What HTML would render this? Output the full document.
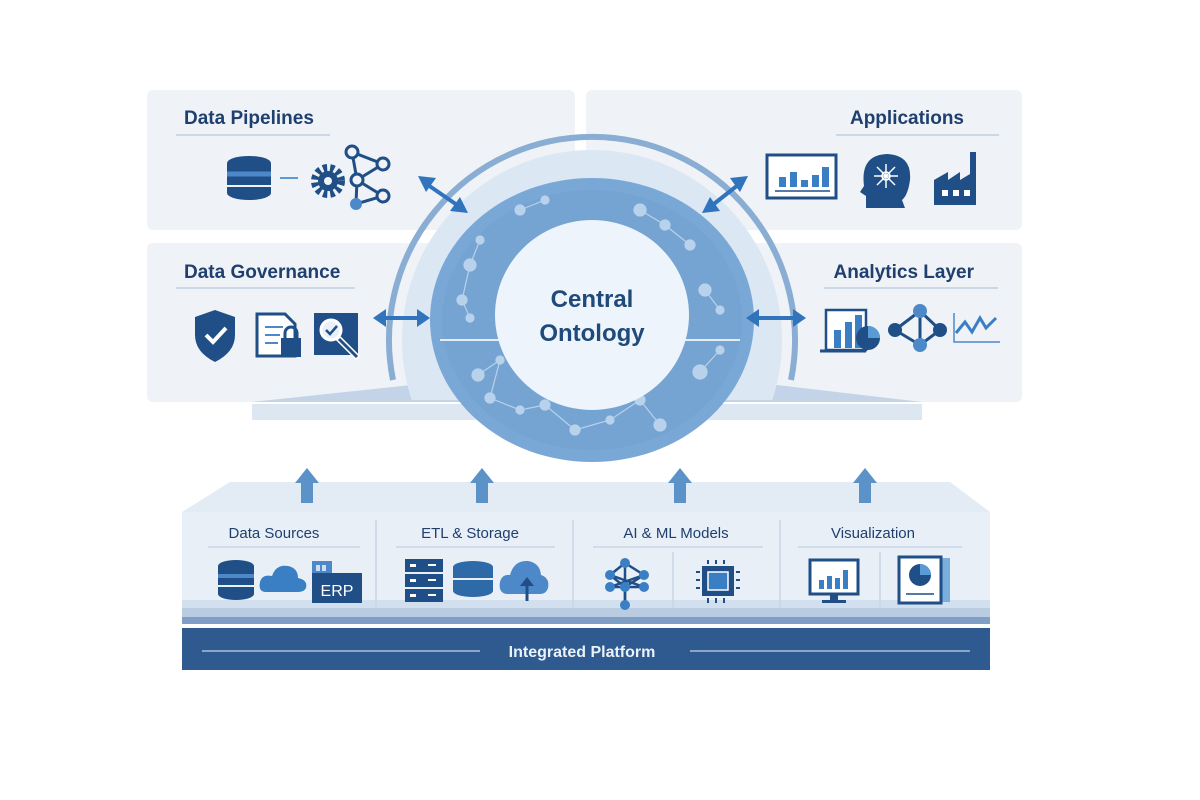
<!DOCTYPE html>
<html><head><style>
body{margin:0;background:#fff;}
svg{display:block;font-family:"Liberation Sans",sans-serif;}
</style></head><body>
<svg width="1200" height="800" viewBox="0 0 1200 800">
<defs><clipPath id="c"><rect x="0" y="0" width="1200" height="400"/></clipPath></defs>
<rect width="1200" height="800" fill="#fff"/>
<rect x="147" y="90" width="428" height="140" rx="6" fill="#eff2f7"/>
<rect x="147" y="243" width="428" height="159" rx="6" fill="#eff2f7"/>
<rect x="586" y="90" width="436" height="140" rx="6" fill="#eff2f7"/>
<rect x="586" y="243" width="436" height="159" rx="6" fill="#eff2f7"/>
<path d="M252 402 L430 383 L760 383 L922 402 Z" fill="#c3d4e8"/>
<rect x="252" y="404" width="670" height="16" fill="#dde7f2"/>
<g clip-path="url(#c)">
<circle cx="592" cy="340" r="190" fill="#dbe7f3"/>
<path d="M393 380 A203 203 0 1 1 791 380" fill="none" stroke="#8aaed3" stroke-width="6"/>
</g>
<ellipse cx="592" cy="320" rx="162" ry="142" fill="#7aa8d6"/>
<ellipse cx="592" cy="320" rx="150" ry="130" fill="#6f9fd0" opacity=".5"/>
<line x1="440" y1="340" x2="510" y2="340" stroke="#e3edf7" stroke-width="2"/>
<line x1="680" y1="340" x2="740" y2="340" stroke="#e3edf7" stroke-width="2"/>
<g fill="#b9d2ec" stroke="#b9d2ec" stroke-width="1.2">
<circle cx="478" cy="375" r="6"/><circle cx="500" cy="360" r="4"/><circle cx="490" cy="398" r="5"/>
<circle cx="520" cy="410" r="4"/><circle cx="545" cy="405" r="5"/><circle cx="575" cy="430" r="5"/>
<circle cx="610" cy="420" r="4"/><circle cx="640" cy="400" r="5"/><circle cx="660" cy="425" r="6"/>
<circle cx="700" cy="372" r="7"/><circle cx="720" cy="350" r="4"/>
<circle cx="470" cy="265" r="6"/><circle cx="462" cy="300" r="5"/><circle cx="470" cy="318" r="4"/>
<circle cx="480" cy="240" r="4"/><circle cx="520" cy="210" r="5"/><circle cx="545" cy="200" r="4"/>
<circle cx="640" cy="210" r="6"/><circle cx="665" cy="225" r="5"/><circle cx="690" cy="245" r="5"/>
<circle cx="705" cy="290" r="6"/><circle cx="720" cy="310" r="4"/>
<polyline points="478,375 500,360 490,398 520,410 545,405 575,430 610,420 640,400 660,425" fill="none"/>
<polyline points="700,372 720,350" fill="none"/>
<polyline points="480,240 470,265 462,300 470,318" fill="none"/>
<polyline points="520,210 545,200" fill="none"/><polyline points="640,210 665,225 690,245" fill="none"/>
<polyline points="705,290 720,310" fill="none"/>
</g>
<ellipse cx="592" cy="315" rx="97" ry="95" fill="#edf4fb"/>
<text x="592" y="307" text-anchor="middle" font-size="24" font-weight="bold" fill="#1f4a7a">Central</text>
<text x="592" y="341" text-anchor="middle" font-size="24" font-weight="bold" fill="#1f4a7a">Ontology</text>
<g fill="#2f74bd" stroke="#2f74bd" stroke-width="4">
<line x1="428" y1="185" x2="460" y2="207"/><line x1="738" y1="185" x2="710" y2="207"/>
<line x1="382" y1="318" x2="422" y2="318"/><line x1="755" y1="318" x2="800" y2="318"/>
</g>
<g fill="#2f74bd">
<polygon points="418,176 436,178 426,192"/><polygon points="468,213 450,211 460,197"/>
<polygon points="748,176 730,178 740,192"/><polygon points="702,213 720,211 710,197"/>
<polygon points="373,318 386,309 386,327"/><polygon points="430,318 417,309 417,327"/>
<polygon points="746,318 759,309 759,327"/><polygon points="806,318 793,309 793,327"/>
</g>
<g font-size="19" font-weight="bold" fill="#1f3f6e">
<text x="184" y="124">Data Pipelines</text>
<text x="184" y="278">Data Governance</text>
<text x="964" y="124" text-anchor="end">Applications</text>
<text x="974" y="278" text-anchor="end">Analytics Layer</text>
</g>
<g stroke="#bfd0e3" stroke-width="1.5">
<line x1="176" y1="135" x2="330" y2="135"/><line x1="176" y1="288" x2="355" y2="288"/>
<line x1="836" y1="135" x2="999" y2="135"/><line x1="824" y1="288" x2="998" y2="288"/>
</g>
<g fill="#1f4f86"><ellipse cx="249" cy="163" rx="22" ry="7"/><rect x="227" y="163" width="44" height="30"/><ellipse cx="249" cy="193" rx="22" ry="7"/></g>
<line x1="227" y1="174" x2="271" y2="174" stroke="#4d89c8" stroke-width="5"/>
<line x1="227" y1="186" x2="271" y2="186" stroke="#eff2f7" stroke-width="2"/>
<line x1="280" y1="178" x2="298" y2="178" stroke="#5b9bd5" stroke-width="2"/>
<circle cx="328" cy="181" r="13" fill="none" stroke="#1f4f86" stroke-width="8" stroke-dasharray="4 3"/>
<circle cx="328" cy="181" r="10" fill="#1f4f86"/><circle cx="328" cy="181" r="4" fill="#eff2f7"/>
<g stroke="#1f4f86" stroke-width="3" fill="#eff2f7">
<polyline points="352,152 383,164 357,180 383,196 356,204 357,180 352,152" fill="none"/>
<circle cx="352" cy="152" r="6"/><circle cx="383" cy="164" r="6"/><circle cx="357" cy="180" r="6"/><circle cx="383" cy="196" r="6"/>
</g>
<circle cx="356" cy="204" r="6" fill="#4d89c8"/>
<path d="M215 310 L235 317 L235 335 Q235 352 215 362 Q195 352 195 335 L195 317 Z" fill="#1f4f86"/>
<polyline points="206,335 213,342 226,328" fill="none" stroke="#fff" stroke-width="4"/>
<path d="M257 314 L285 314 L295 324 L295 356 L257 356 Z" fill="#fff" stroke="#1f4f86" stroke-width="3"/>
<g stroke="#4d89c8" stroke-width="2"><line x1="265" y1="327" x2="283" y2="327"/><line x1="265" y1="335" x2="280" y2="335"/><line x1="265" y1="343" x2="278" y2="343"/></g>
<rect x="281" y="338" width="20" height="19" fill="#1f4f86"/><path d="M285 338 v-5 a6 6 0 0 1 12 0 v5" fill="none" stroke="#1f4f86" stroke-width="3"/>
<rect x="314" y="313" width="44" height="42" fill="#1f4f86"/>
<circle cx="331" cy="330" r="10" fill="#e9f0f8" stroke="#fff" stroke-width="3"/>
<polyline points="326,330 330,334 337,326" fill="none" stroke="#1f4f86" stroke-width="2.5"/>
<line x1="338" y1="338" x2="358" y2="358" stroke="#fff" stroke-width="6"/><line x1="339" y1="339" x2="357" y2="357" stroke="#1f4f86" stroke-width="3"/>
<rect x="767" y="155" width="69" height="43" fill="#fff" stroke="#1f4f86" stroke-width="3"/>
<g fill="#3a7fc4"><rect x="779" y="177" width="7" height="10"/><rect x="790" y="172" width="7" height="15"/><rect x="801" y="180" width="7" height="7"/><rect x="812" y="175" width="7" height="12"/><rect x="822" y="167" width="7" height="20"/></g>
<line x1="775" y1="191" x2="830" y2="191" stroke="#1f4f86" stroke-width="1.5"/>
<path d="M866 208 L866 196 L860 192 L864 186 Q860 155 887 154 Q912 155 910 180 Q908 195 902 200 L905 208 Z" fill="#1f4f86"/>
<g stroke="#fff" stroke-width="1.5" fill="#fff"><circle cx="886" cy="176" r="4" fill="none"/><line x1="886" y1="164" x2="886" y2="188"/><line x1="874" y1="176" x2="898" y2="176"/><line x1="877" y1="167" x2="895" y2="185"/><line x1="895" y1="167" x2="877" y2="185"/></g>
<path d="M934 205 L934 180 L948 172 L948 180 L960 172 L960 180 L970 174 L970 152 L976 152 L976 205 Z" fill="#1f4f86"/>
<g fill="#fff"><rect x="942" y="190" width="6" height="6"/><rect x="953" y="190" width="6" height="6"/><rect x="964" y="190" width="6" height="6"/></g>
<rect x="826" y="310" width="40" height="40" fill="#fff" stroke="#1f4f86" stroke-width="2.5"/>
<line x1="820" y1="351" x2="866" y2="351" stroke="#1f4f86" stroke-width="3"/>
<g fill="#3a7fc4"><rect x="834" y="330" width="7" height="18"/><rect x="845" y="322" width="7" height="26"/><rect x="855" y="315" width="7" height="33"/></g>
<circle cx="868" cy="338" r="12" fill="#1f4f86"/><path d="M868 338 L868 326 A12 12 0 0 1 880 338 Z" fill="#5b9bd5"/>
<g stroke="#1f4f86" stroke-width="3"><line x1="895" y1="330" x2="920" y2="311"/><line x1="895" y1="330" x2="920" y2="345"/><line x1="920" y1="311" x2="920" y2="345"/><line x1="920" y1="311" x2="940" y2="330"/><line x1="920" y1="345" x2="940" y2="330"/></g>
<circle cx="895" cy="330" r="7" fill="#1f4f86"/><circle cx="920" cy="311" r="7" fill="#4d89c8"/><circle cx="920" cy="345" r="7" fill="#4d89c8"/><circle cx="940" cy="330" r="7" fill="#1f4f86"/>
<polyline points="954,313 954,342 1000,342" fill="none" stroke="#4d89c8" stroke-width="1.5"/>
<polyline points="956,333 965,322 972,332 980,318 986,328 996,318" fill="none" stroke="#3a7fc4" stroke-width="3"/>
<path d="M230 482 L950 482 L990 512 L182 512 Z" fill="#e3ebf5"/>
<rect x="182" y="512" width="808" height="96" fill="#e8eff7"/>
<rect x="182" y="600" width="808" height="10" fill="#d2dfee"/>
<rect x="182" y="608" width="808" height="12" fill="#b9cce2"/>
<rect x="182" y="617" width="808" height="7" fill="#7f9fc6"/>
<rect x="182" y="628" width="808" height="42" fill="#2e5a8f"/>
<line x1="202" y1="651" x2="480" y2="651" stroke="#a9c0dc" stroke-width="1.5"/>
<line x1="690" y1="651" x2="970" y2="651" stroke="#a9c0dc" stroke-width="1.5"/>
<text x="582" y="657" text-anchor="middle" font-size="16" font-weight="bold" fill="#eaf1f9">Integrated Platform</text>
<g fill="#5b93c9">
<rect x="301" y="481" width="12" height="22"/><polygon points="295,483 307,468 319,483"/>
<rect x="476" y="481" width="12" height="22"/><polygon points="470,483 482,468 494,483"/>
<rect x="674" y="481" width="12" height="22"/><polygon points="668,483 680,468 692,483"/>
<rect x="859" y="481" width="12" height="22"/><polygon points="853,483 865,468 877,483"/>
</g>
<g stroke="#c8d6e6" stroke-width="1.5">
<line x1="376" y1="520" x2="376" y2="608"/><line x1="573" y1="520" x2="573" y2="608"/><line x1="780" y1="520" x2="780" y2="608"/>
<line x1="673" y1="552" x2="673" y2="608"/><line x1="880" y1="552" x2="880" y2="608"/>
<line x1="208" y1="547" x2="360" y2="547"/><line x1="396" y1="547" x2="555" y2="547"/><line x1="593" y1="547" x2="763" y2="547"/><line x1="798" y1="547" x2="962" y2="547"/>
</g>
<g font-size="15" fill="#1f3f6e" text-anchor="middle">
<text x="274" y="538">Data Sources</text><text x="470" y="538">ETL &amp; Storage</text>
<text x="676" y="538">AI &amp; ML Models</text><text x="873" y="538">Visualization</text>
</g>
<g fill="#1f4f86"><ellipse cx="236" cy="566" rx="18" ry="6"/><rect x="218" y="566" width="36" height="28"/><ellipse cx="236" cy="594" rx="18" ry="6"/></g>
<line x1="218" y1="576" x2="254" y2="576" stroke="#4d89c8" stroke-width="4"/><line x1="218" y1="586" x2="254" y2="586" stroke="#e8eff7" stroke-width="2"/>
<path d="M266 592 Q258 592 260 582 Q262 574 272 576 Q276 564 288 566 Q298 568 298 578 Q308 580 306 588 Q304 592 298 592 Z" fill="#3a7fc4"/>
<rect x="312" y="561" width="20" height="16" fill="#4d89c8"/><rect x="316" y="565" width="4" height="6" fill="#cde0f2"/><rect x="322" y="565" width="4" height="6" fill="#cde0f2"/>
<rect x="312" y="573" width="50" height="30" fill="#1f4f86"/>
<text x="337" y="596" font-size="16" fill="#fff" text-anchor="middle">ERP</text>
<g fill="#1f4f86"><rect x="405" y="559" width="38" height="13"/><rect x="405" y="574" width="38" height="13"/><rect x="405" y="589" width="38" height="13"/></g>
<g fill="#fff"><rect x="410" y="564" width="6" height="3"/><rect x="428" y="564" width="8" height="2"/><rect x="410" y="579" width="6" height="3"/><rect x="428" y="579" width="8" height="2"/><rect x="410" y="594" width="6" height="3"/><rect x="428" y="594" width="8" height="2"/></g>
<g fill="#2f6aa8"><ellipse cx="473" cy="567" rx="20" ry="6"/><rect x="453" y="567" width="40" height="24"/><ellipse cx="473" cy="591" rx="20" ry="6"/></g>
<line x1="453" y1="579" x2="493" y2="579" stroke="#e8eff7" stroke-width="2"/>
<path d="M508 594 Q498 594 500 582 Q502 574 510 575 Q514 560 528 561 Q540 563 541 575 Q550 578 548 588 Q546 594 540 594 Z" fill="#4d89c8"/>
<line x1="527" y1="601" x2="527" y2="582" stroke="#1f4f86" stroke-width="3"/><polygon points="520,586 527,577 534,586" fill="#1f4f86"/>
<g stroke="#1f4f86" stroke-width="2.5"><line x1="625" y1="563" x2="644" y2="575"/><line x1="625" y1="563" x2="610" y2="575"/><line x1="610" y1="575" x2="625" y2="587"/><line x1="644" y1="575" x2="625" y2="587"/><line x1="625" y1="563" x2="625" y2="605"/><line x1="610" y1="587" x2="644" y2="587"/><line x1="610" y1="575" x2="644" y2="587"/><line x1="644" y1="575" x2="610" y2="587"/><line x1="625" y1="587" x2="625" y2="605"/></g>
<g fill="#3a7fc4"><circle cx="625" cy="563" r="5"/><circle cx="610" cy="575" r="5"/><circle cx="644" cy="575" r="5"/><circle cx="610" cy="587" r="5"/><circle cx="644" cy="587" r="5"/><circle cx="625" cy="587" r="5"/><circle cx="625" cy="605" r="5"/></g>
<rect x="702" y="566" width="32" height="30" fill="#1f4f86"/><rect x="708" y="572" width="20" height="18" fill="#3a7fc4" stroke="#fff" stroke-width="1.5"/>
<g stroke="#1f4f86" stroke-width="2"><line x1="708" y1="560" x2="708" y2="564"/><line x1="716" y1="560" x2="716" y2="564"/><line x1="724" y1="560" x2="724" y2="564"/><line x1="708" y1="598" x2="708" y2="603"/><line x1="716" y1="598" x2="716" y2="603"/><line x1="724" y1="598" x2="724" y2="603"/><line x1="696" y1="572" x2="700" y2="572"/><line x1="696" y1="580" x2="700" y2="580"/><line x1="696" y1="588" x2="700" y2="588"/><line x1="736" y1="572" x2="740" y2="572"/><line x1="736" y1="580" x2="740" y2="580"/><line x1="736" y1="588" x2="740" y2="588"/></g>
<rect x="810" y="560" width="48" height="34" fill="#fff" stroke="#1f4f86" stroke-width="3"/>
<g fill="#3a7fc4"><rect x="819" y="580" width="5" height="9"/><rect x="827" y="576" width="5" height="13"/><rect x="835" y="578" width="5" height="11"/><rect x="843" y="570" width="5" height="19"/></g>
<rect x="830" y="595" width="8" height="5" fill="#1f4f86"/><rect x="822" y="600" width="24" height="3" fill="#1f4f86"/>
<rect x="937" y="558" width="13" height="44" fill="#7aaedc"/>
<rect x="899" y="557" width="42" height="46" fill="#fff" stroke="#1f4f86" stroke-width="3"/>
<circle cx="920" cy="575" r="11" fill="#1f4f86"/><path d="M920 575 L920 564 A11 11 0 0 1 931 575 Z" fill="#5b9bd5"/>
<line x1="906" y1="594" x2="934" y2="594" stroke="#1f4f86" stroke-width="1.5"/>
</svg>
</body></html>
